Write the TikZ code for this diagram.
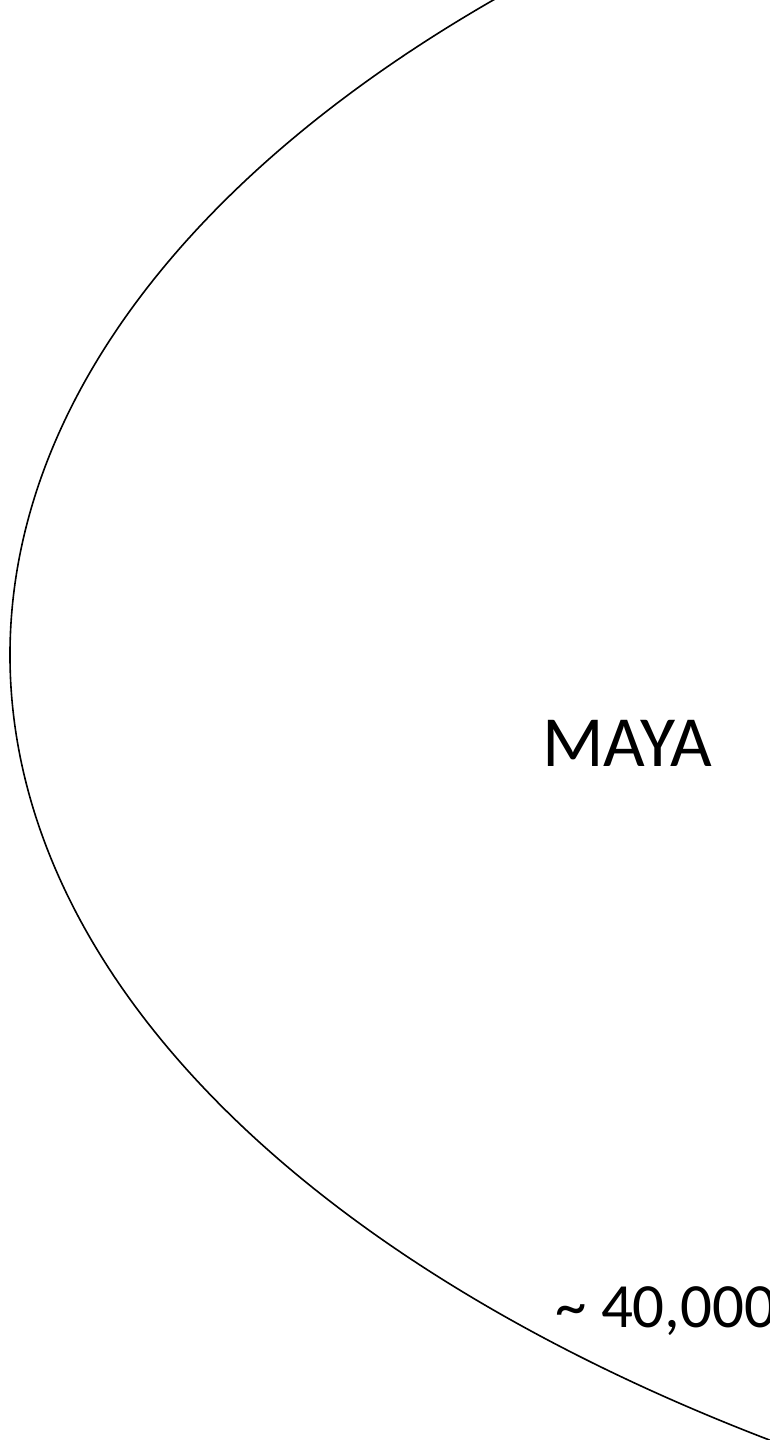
\documentclass[tikz,border=0pt]{standalone}
\usepackage{fontspec}
\setmainfont{Carlito}
\usetikzlibrary{positioning}

\begin{document}
\begin{tikzpicture}[
  x=0.5pt, y=0.5pt,
  curve/.style={line width=0.8pt, black},
  bigtxt/.style={font=\fontsize{36}{42}\selectfont, inner sep=0pt, anchor=base west},
  numtxt/.style={font=\fontsize{31.5}{38}\selectfont, inner sep=0pt, anchor=base west}
]
\useasboundingbox (0,0) rectangle (770,1440);
\clip (0,0) rectangle (770,1440);
% centre of the big ellipse, far to the right
\coordinate (ctr) at (1861,785);
% the arc
\draw[curve, shift={(ctr)}] (133:1851 and 972) arc[start angle=133, end angle=238, x radius=1851, y radius=972];
% labels
\node[bigtxt] (maya) at (542,673) {MAYA};
\node[numtxt] (age) at (555,112) {\~{} 40,000};
\end{tikzpicture}
\end{document}
